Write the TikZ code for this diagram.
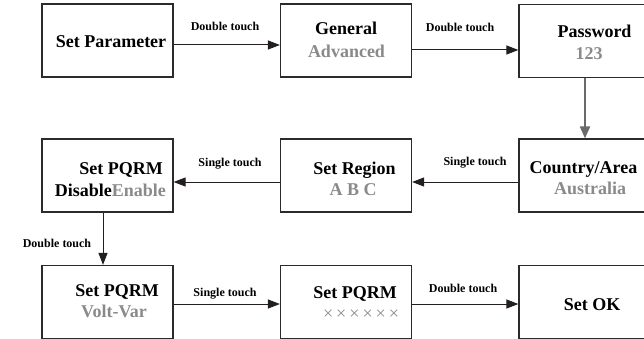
\documentclass[tikz,border=0pt]{standalone}
\usepackage{fontspec}
\setmainfont{Liberation Serif}
\usetikzlibrary{arrows.meta}
\definecolor{boxline}{HTML}{2B2B2B}
\definecolor{txtgray}{HTML}{8A8A8A}
\definecolor{arrgray}{HTML}{6A6A6A}
\definecolor{arrdark}{HTML}{231F20}
\tikzset{
  stbox/.style={draw=boxline, line width=1.2pt, minimum width=131pt, minimum height=73pt, inner sep=0pt},
  main/.style={anchor=base, inner sep=0pt, font=\fontsize{18}{20}\selectfont\bfseries},
  sub/.style={main, text=txtgray},
  lbl/.style={anchor=base, inner sep=0pt, font=\fontsize{12}{14}\selectfont\bfseries},
  arr/.style={draw=arrdark, line width=1pt, -{Triangle[length=12pt,width=9pt]}},
  garr/.style={draw=arrgray, line width=2pt, -{Triangle[length=12pt,width=10pt]}}
}
\begin{document}
\begin{tikzpicture}[x=1pt,y=-1pt]
\useasboundingbox (0,0) rectangle (644,339);
\clip (0,0) rectangle (644,339);
% boxes
\node[stbox] (b1) at (107.5,40.5) {};
\node[stbox] (b2) at (346,40.5) {};
\node[stbox] (b3) at (584.5,41) {};
\node[stbox] (b4) at (584.5,175.5) {};
\node[stbox] (b5) at (346,175.5) {};
\node[stbox] (b6) at (107.5,175.5) {};
\node[stbox] (b7) at (107.5,302) {};
\node[stbox] (b8) at (346,302) {};
\node[stbox] (b9) at (584.5,302) {};
% texts
\node[main] (t1) at (111,48) {Set Parameter};
\node[main] (t2a) at (346,35) {General};
\node[sub] (t2b) at (346.5,58) {Advanced};
\node[main] (t3a) at (594.5,38) {Password};
\node[sub] (t3b) at (589,60) {123};
\node[main] (t4a) at (583.5,173) {Country/Area};
\node[sub] (t4b) at (590,194) {Australia};
\node[main] (t5a) at (354.5,175) {Set Region};
\node[sub] (t5b) at (353,195) {A B C};
\node[main, anchor=base east] (t6a) at (163,174) {Set PQRM};
\node[main, anchor=base east] (t6b) at (166,196) {Disable\textcolor{txtgray}{Enable}};
\node[main] (t7a) at (117,296) {Set PQRM};
\node[sub] (t7b) at (114,317) {Volt-Var};
\node[main] (t8a) at (355,298) {Set PQRM};
\node[sub, font=\fontsize{18}{20}\selectfont] (t8b) at (361,319) {×\kern3pt×\kern3pt×\kern3pt×\kern3pt×\kern3pt×};
\node[main] (t9) at (592,310) {Set OK};
% connectors
\draw[arr] (b1.east |- 0,45) -- (b2.west |- 0,45);
\draw[arr] (b2.east |- 0,50) -- (b3.west |- 0,50);
\draw[garr] (b3.south -| 585,0) -- (b4.north -| 585,0);
\draw[arr] (b4.west |- 0,182) -- (b5.east |- 0,182);
\draw[arr] (b5.west |- 0,182) -- (b6.east |- 0,182);
\draw[arr] (b6.south -| 103,0) -- (b7.north -| 103,0);
\draw[arr] (b7.east |- 0,304) -- (b8.west |- 0,304);
\draw[arr] (b8.east |- 0,304) -- (b9.west |- 0,304);
% labels
\node[lbl] (l1) at (225,31) {Double touch};
\node[lbl] (l2) at (460,32) {Double touch};
\node[lbl] (l3) at (475,165) {Single touch};
\node[lbl] (l4) at (230,166) {Single touch};
\node[lbl] (l5) at (57,247) {Double touch};
\node[lbl] (l6) at (225,296) {Single touch};
\node[lbl] (l7) at (463,292) {Double touch};
\end{tikzpicture}
\end{document}
